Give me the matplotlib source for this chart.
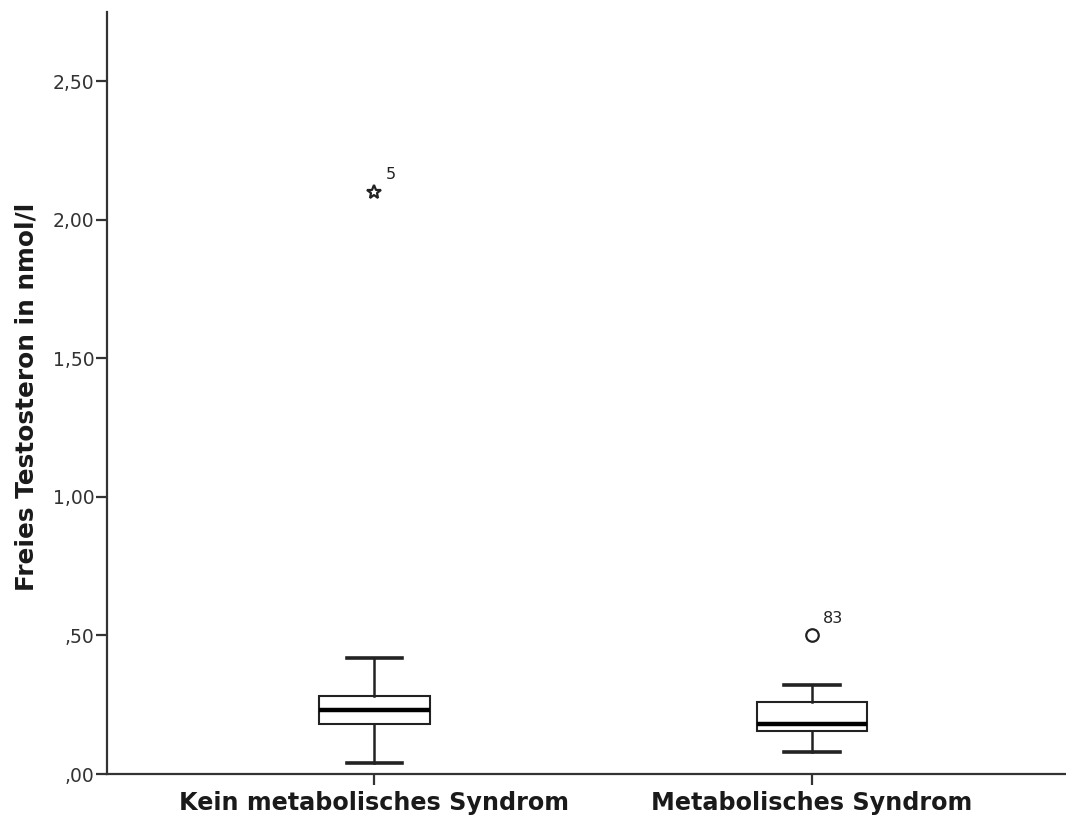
import matplotlib.pyplot as plt
import matplotlib as mpl

mpl.rcParams.update({
    'font.family': 'DejaVu Sans',
    'axes.linewidth': 1.6,
    'xtick.major.width': 1.6,
    'ytick.major.width': 1.6,
    'xtick.major.size': 8,
    'ytick.major.size': 8,
})

groups = ['Kein metabolisches Syndrom', 'Metabolisches Syndrom']
whislo = [0.04, 0.08]
q1 = [0.18, 0.155]
med = [0.23, 0.18]
q3 = [0.28, 0.26]
whishi = [0.42, 0.32]
outlier_vals = [2.10, 0.50]
outlier_ids = ['5', '83']
outlier_markers = ['*', 'o']
yticks = [0.0, 0.5, 1.0, 1.5, 2.0, 2.5]

dark = '#222222'

fig = plt.figure(figsize=(10.66, 8.19), dpi=100)
ax = fig.add_axes([0.1004, 0.0549, 0.912, 0.9304])

stats = []
for i, g in enumerate(groups):
    stats.append({'label': g, 'whislo': whislo[i], 'q1': q1[i], 'med': med[i],
                  'q3': q3[i], 'whishi': whishi[i], 'fliers': []})

pos = [1, 2]
ax.bxp(stats, positions=pos, widths=0.253, capwidths=0.126, showfliers=False,
       patch_artist=True,
       boxprops=dict(facecolor='white', edgecolor=dark, linewidth=1.5),
       medianprops=dict(color='black', linewidth=3.2),
       whiskerprops=dict(color=dark, linewidth=1.8),
       capprops=dict(color=dark, linewidth=2.6))

# outliers with case numbers
for i in range(len(groups)):
    ax.plot(pos[i], outlier_vals[i], marker=outlier_markers[i], linestyle='none',
            markersize=10 if outlier_markers[i] == '*' else 9,
            markerfacecolor='none', markeredgecolor=dark, markeredgewidth=1.6)
    ax.annotate(outlier_ids[i], (pos[i], outlier_vals[i]), xytext=(8, 7),
                textcoords='offset points', fontsize=11.5, color=dark,
                ha='left', va='bottom')

ax.set_xlim(0.39, 2.61)
ax.set_ylim(0, 2.75)
ax.set_yticks(yticks)
ax.set_yticklabels([('%.2f' % v).replace('.', ',').lstrip('0') if v < 1 else ('%.2f' % v).replace('.', ',')
                    for v in yticks], fontsize=13.5, color='#333333')
ax.tick_params(axis='y', pad=1, colors='#333333')
ax.tick_params(axis='x', pad=4, colors='#333333')
ax.set_xticks(pos)
ax.set_xticklabels(groups, fontsize=17.2, fontweight='bold', color='#1a1a1a')

ax.set_ylabel('Freies Testosteron in nmol/l', fontsize=17.8, fontweight='bold', color='#1a1a1a')
ax.yaxis.set_label_coords(-0.07, 0.495)

ax.spines['top'].set_visible(False)
ax.spines['right'].set_visible(False)
ax.spines['left'].set_color('#333333')
ax.spines['bottom'].set_color('#333333')

fig.savefig('out.png', dpi=100)
